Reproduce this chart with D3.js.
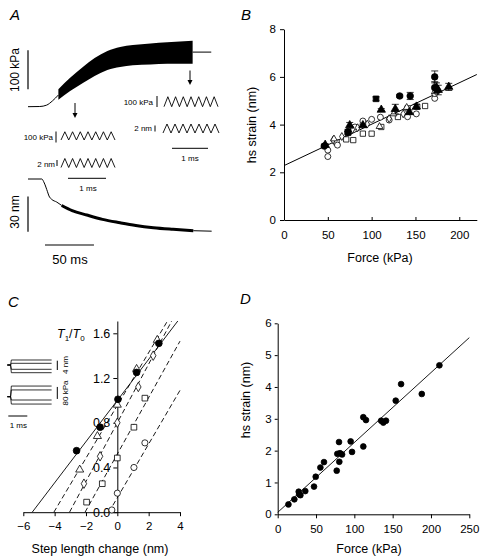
<!DOCTYPE html>
<html><head><meta charset="utf-8">
<script src="https://cdn.jsdelivr.net/npm/d3@7"></script>
<style>body{margin:0;background:#fff}svg{display:block}</style>
</head><body><svg id="c" width="480" height="560"></svg>
<script>
// ================= DATA =================
// Panel A: force (kPa) and length (nm) vs time (ms)
const aForceRise = [[0,0],[12,0.5],[19,4],[25,15],[31,30]];
const aForceBand = [[31,18,45],[43,40,74],[56,61,102],[68,79,125],[81,94,143],[94,102,153],[107,106,158],[125,108,162],[142,110,165],[168,110,169]]; // [t, low, high]
const aForceEnd = [[168,140],[187,140]];
const aLengthStart = [[0,0],[14,0],[16.6,-3.4],[19.9,-10.9],[21.4,-14.5],[24.2,-17.4],[29.3,-19.7],[34.4,-22.6]];
const aLengthBand = [[34.4,-22.6],[45,-27],[60,-30.8],[76,-34.5],[94,-37.4],[110,-39.7],[128,-41.6],[148,-43],[168.7,-44.2]];
const aLengthEnd = [[168.7,-44.2],[187.4,-44.6]];
// inset sinusoidal oscillations (alternating extremes, 7 cycles)
const insetForceWave = [0,75,0,75,0,75,0,75,0,75,0,75,0,75,0];   // kPa
const insetLengthWave = [0,3,0,3,0,3,0,3,0,3,0,3,0,3,0];          // nm

// Panel B: hs strain (nm) vs force (kPa)
const bFilledCircles = [[46,3.1,0.05],[73,3.7,0.1],[132,5.2,0.05],[144,5.2,0.15],[172,6.0,0.25],[172,5.55,0.25]];
const bFilledTriangles = [[47,3.15,0.05],[75,3.97,0.12],[90,3.97,0.05],[111,4.62,0.05],[127,4.65,0.2],[143,4.52,0.1],[151,4.75,0.1],[174,5.55,0.2],[176,5.45,0.2],[188,5.58,0.15]];
const bFilledSquares = [[105,5.08,0.08],[73,3.66,0.05]];
const bOpenCircles = [[50,2.93],[50,2.66],[61,3.14],[81,3.9],[90,4.15],[100,4.22],[110,4.31],[120,4.19],[141,4.33],[151,4.45],[172,5.1],[172,5.3]];
const bOpenSquares = [[60,3.25],[71,3.38],[79,3.35],[90,3.62],[100,3.62],[111,3.9],[130,4.32],[141,4.68],[152,4.75],[161,4.78],[174,5.4]];
const bOpenDiamonds = [[56,3.35],[66,3.5],[78,3.8],[84,3.87],[95,4.02],[120,4.25],[136,4.45]];
const bOpenTriangles = [[57,3.4],[109,3.92],[125,4.45],[140,4.72]];
const bFit = [[0,2.28],[220,6.1]];
const bTicksX = [0,50,100,150,200];
const bTicksY = [0,2,4,6,8];

// Panel C: T1/T0 vs step length change (nm)
const cFilledCircles = [[-2.6,0.55],[-1.1,0.76],[0.04,1.01],[1.23,1.25],[2.65,1.51]];
const cTriangles = [[-2.4,0.38],[-1.27,0.68],[0,0.96],[1.23,1.28],[2.55,1.54]];
const cDiamonds = [[-2.13,0.255],[-1.1,0.5],[0,0.8],[1.34,1.12],[2.29,1.4]];
const cSquares = [[-1.96,0.09],[-0.96,0.255],[0,0.485],[1.06,0.76],[1.76,1.02]];
const cCircles = [[-0.35,0.02],[0,0.17],[1.06,0.4],[1.76,0.62]];
// fitted lines: [x at T1/T0 = 0, x end, y end]
const cFitSolid = [[-5.43,0],[3.86,1.71]];
const cFitTriangles = [[-4.05,0],[3.2,1.71]];
const cFitDiamonds = [[-3.05,0],[3.47,1.71]];
const cFitSquares = [[-2.06,0],[4.0,1.53]];
const cFitCircles = [[-0.54,0],[4.0,1.09]];
const cTicksX = [-6,-4,-2,0,2,4];
const cTicksY = [0,0.4,0.8,1.2,1.6];
// inset step traces: levels after the step
const cInsetLenLevels = [2.15,0.73,-1.85,-3.3];    // nm
const cInsetForceLevels = [71,45,-22,-49];         // kPa

// Panel D: hs strain (nm) vs force (kPa)
const dPoints = [[14,0.31],[21.7,0.47],[27.4,0.71],[28,0.63],[29.6,0.6],[36,0.73],[47.4,0.87],[49.6,1.18],[55.7,1.47],[60.4,1.64],
  [77,1.37],[77.8,1.9],[80,2.27],[80.4,1.65],[81.3,1.92],[84,1.88],[95.2,2.29],[97,1.96],[111.7,2.13],[111.7,3.05],[115.2,2.96],
  [135,2.94],[137.8,2.88],[141.3,2.94],[154,3.57],[161,4.09],[188,3.78],[211,4.68]];
const dFit = [[0,0.06],[250,5.55]];
const dTicksX = [0,50,100,150,200,250];
const dTicksY = [0,1,2,3,4,5,6];

// ================= DRAW =================
const FONT = '"Liberation Sans", Arial, Helvetica, sans-serif';
const svg = d3.select("#c").attr("font-family", FONT);
svg.append("rect").attr("width",480).attr("height",560).attr("fill","#fff");

function txt(g,x,y,s,size,anchor,rot,italic){
  const t = g.append("text").attr("x",x).attr("y",y).attr("font-size",size).attr("fill","#000")
    .attr("text-anchor",anchor||"middle").text(s);
  if(italic) t.attr("font-style","italic");
  if(rot) t.attr("transform",`rotate(${rot},${x},${y})`);
  return t;
}
function hline(g,x1,x2,y,w){g.append("line").attr("x1",x1).attr("x2",x2).attr("y1",y).attr("y2",y).attr("stroke","#000").attr("stroke-width",w||1);}
function vline(g,x,y1,y2,w){g.append("line").attr("x1",x).attr("x2",x).attr("y1",y1).attr("y2",y2).attr("stroke","#000").attr("stroke-width",w||1);}
function styleAxis(g,fs){g.attr("font-family",FONT).attr("font-size",fs);g.selectAll("path,line").attr("stroke","#000");g.selectAll("text").attr("fill","#000");}

// ---------- Panel A ----------
const gA = svg.append("g");
txt(gA,10,20,"A",15,"start",0,true);
const ax = d3.scaleLinear().domain([0,100]).range([28,126]);
const afy = d3.scaleLinear().domain([0,100]).range([106.7,67.7]);
const aly = d3.scaleLinear().domain([0,-30]).range([179,214.1]);
const lineF = d3.line().x(d=>ax(d[0])).y(d=>afy(d[1])).curve(d3.curveMonotoneX);
const lineL = d3.line().x(d=>ax(d[0])).y(d=>aly(d[1])).curve(d3.curveMonotoneX);
gA.append("path").attr("d",lineF(aForceRise)).attr("fill","none").attr("stroke","#000");
gA.append("path").attr("d",d3.area().x(d=>ax(d[0])).y0(d=>afy(d[1])).y1(d=>afy(d[2])).curve(d3.curveMonotoneX)(aForceBand)).attr("fill","#000");
gA.append("path").attr("d",lineF(aForceEnd)).attr("fill","none").attr("stroke","#000");
gA.append("path").attr("d",lineL(aLengthStart)).attr("fill","none").attr("stroke","#000");
gA.append("path").attr("d",lineL(aLengthBand)).attr("fill","none").attr("stroke","#000").attr("stroke-width",3);
gA.append("path").attr("d",lineL(aLengthEnd)).attr("fill","none").attr("stroke","#000");
// scale bars
vline(gA,ax(0),afy(45),afy(145),1.2);
txt(gA,19,70,"100 kPa",12,"middle",-90);
vline(gA,ax(0),aly(-15),aly(-45),1.2);
txt(gA,19,212,"30 nm",12,"middle",-90);
hline(gA,ax(17.3),ax(67.3),245,1.2);
txt(gA,70,264,"50 ms",13,"middle");
// arrows
function arrow(g,x,y1,y2){vline(g,x,y1,y2-3,1);g.append("path").attr("d",`M${x-2.5},${y2-5}L${x+2.5},${y2-5}L${x},${y2}Z`).attr("fill","#000");}
arrow(gA,75,103,118);
arrow(gA,190,70.5,85);
// insets
function wave(g,vals,x0,x1,yBase,pxPer){
  const xs = d3.scalePoint().domain(d3.range(vals.length)).range([x0,x1]);
  const y = d3.scaleLinear().domain([0,1]).range([yBase,yBase-pxPer]);
  g.append("path").attr("d",d3.line().x((d,i)=>xs(i)).y(d=>y(d))(vals)).attr("fill","none").attr("stroke","#000").attr("stroke-width",0.9);
}
// left inset
wave(gA,insetForceWave,61,115,140,0.11);
vline(gA,56,131.5,142.5,1);
txt(gA,53,139.5,"100 kPa",8,"end");
wave(gA,insetLengthWave,61,115,167.5,3);
vline(gA,57,160,166,1);
txt(gA,55,166.5,"2 nm",8,"end");
hline(gA,68,106,178.3,1);
txt(gA,88,191,"1 ms",8,"middle");
// right inset
wave(gA,insetForceWave,164,218,106.7,0.133);
vline(gA,157,96,107,1);
txt(gA,153,105,"100 kPa",8,"end");
wave(gA,insetLengthWave,163,219,133,3);
vline(gA,155,125.5,131.5,1);
txt(gA,152,131,"2 nm",8,"end");
hline(gA,172,208,148.3,1);
txt(gA,190,161,"1 ms",8,"middle");

// ---------- Panel B ----------
const gB = svg.append("g");
txt(gB,241,20,"B",15,"start",0,true);
const bx = d3.scaleLinear().domain([0,220]).range([284,476.8]);
const by = d3.scaleLinear().domain([0,8]).range([220,29.2]);
const gBx = gB.append("g").attr("transform","translate(0,220)").call(d3.axisBottom(bx).tickValues(bTicksX).tickSizeInner(-3).tickSizeOuter(0).tickPadding(11));
styleAxis(gBx,11.5);
const gBy = gB.append("g").attr("transform","translate(284,0)").call(d3.axisLeft(by).tickValues(bTicksY).tickSizeInner(4).tickSizeOuter(0).tickPadding(4));
styleAxis(gBy,11.5);
txt(gB,380,262,"Force (kPa)",12.5,"middle");
txt(gB,256,125,"hs strain (nm)",12.5,"middle",-90);
gB.append("line").attr("x1",bx(bFit[0][0])).attr("y1",by(bFit[0][1])).attr("x2",bx(bFit[1][0])).attr("y2",by(bFit[1][1])).attr("stroke","#000");
const sym = (type,size)=>d3.symbol().type(type).size(size)();
function pts(g,data,xs,ys,type,size,fill){
  g.selectAll(null).data(data).enter().append("path").attr("d",sym(type,size))
   .attr("transform",d=>`translate(${xs(d[0])},${ys(d[1])})`)
   .attr("fill",fill?"#000":"#fff").attr("stroke","#000").attr("stroke-width",0.8);
}
function errs(g,data,xs,ys){
  data.forEach(d=>{const x=xs(d[0]);vline(g,x,ys(d[1]-d[2]),ys(d[1]+d[2]),0.8);hline(g,x-3.5,x+3.5,ys(d[1]+d[2]),0.8);hline(g,x-3.5,x+3.5,ys(d[1]-d[2]),0.8);});
}
pts(gB,bOpenSquares,bx,by,d3.symbolSquare,28,false);
pts(gB,bOpenCircles,bx,by,d3.symbolCircle,28,false);
pts(gB,bOpenDiamonds,bx,by,d3.symbolDiamond,18,false);
pts(gB,bOpenTriangles,bx,by,d3.symbolTriangle,20,false);
errs(gB,bFilledCircles,bx,by);errs(gB,bFilledTriangles,bx,by);errs(gB,bFilledSquares,bx,by);
pts(gB,bFilledSquares,bx,by,d3.symbolSquare,32,true);
pts(gB,bFilledCircles,bx,by,d3.symbolCircle,34,true);
pts(gB,bFilledTriangles,bx,by,d3.symbolTriangle,30,true);

// ---------- Panel C ----------
const gC = svg.append("g");
txt(gC,8,307,"C",15,"start",0,true);
const cx = d3.scaleLinear().domain([-6,4]).range([23.3,180]);
const cy = d3.scaleLinear().domain([0,1.71]).range([512.2,321]);
const gCx = gC.append("g").attr("transform",`translate(0,${cy(0)})`).call(d3.axisBottom(cx).tickValues(cTicksX).tickSizeInner(4).tickSizeOuter(0).tickPadding(6));
styleAxis(gCx,11.5);
const gCy = gC.append("g").attr("transform",`translate(${cx(0)},0)`).call(d3.axisLeft(cy).tickValues(cTicksY).tickFormat(d3.format(".1f")).tickSizeInner(4).tickSizeOuter(0).tickPadding(3));
styleAxis(gCy,12.5);
txt(gC,100,553,"Step length change (nm)",12.5,"middle");
// T1/T0 label
const tl = gC.append("text").attr("x",57).attr("y",338).attr("font-size",12.5).attr("font-style","italic").attr("fill","#000");
tl.append("tspan").text("T");
tl.append("tspan").attr("font-size",8).attr("dy",3).attr("font-style","normal").text("1");
tl.append("tspan").attr("dy",-3).attr("font-style","normal").text("/");
tl.append("tspan").text("T");
tl.append("tspan").attr("font-size",8).attr("dy",3).attr("font-style","normal").text("0");
function fit(g,d,dash){g.append("line").attr("x1",cx(d[0][0])).attr("y1",cy(d[0][1])).attr("x2",cx(d[1][0])).attr("y2",cy(d[1][1])).attr("stroke","#000").attr("stroke-width",0.9).attr("stroke-dasharray",dash?"5,3":null);}
fit(gC,cFitSolid,false);fit(gC,cFitTriangles,true);fit(gC,cFitDiamonds,true);fit(gC,cFitSquares,true);fit(gC,cFitCircles,true);
pts(gC,cCircles,cx,cy,d3.symbolCircle,30,false);
pts(gC,cSquares,cx,cy,d3.symbolSquare,32,false);
pts(gC,cDiamonds,cx,cy,d3.symbolDiamond,26,false);
pts(gC,cTriangles,cx,cy,d3.symbolTriangle,28,false);
pts(gC,cFilledCircles,cx,cy,d3.symbolCircle,36,true);
// inset
const cix = d3.scaleLinear().domain([0,1]).range([8.3,27.3]);
const ciyL = d3.scaleLinear().domain([0,1]).range([365,362.67]);
const ciyF = d3.scaleLinear().domain([0,100]).range([396.7,381.7]);
function stepTrace(g,lvl,ys){
  const d=[[-0.05,0],[0.12,0],[0.16,lvl],[2.28,lvl]];
  g.append("path").attr("d",d3.line().x(p=>cix(p[0])).y(p=>ys(p[1]))(d)).attr("fill","none").attr("stroke","#000").attr("stroke-width",0.8);
}
cInsetLenLevels.forEach(l=>stepTrace(gC,l,ciyL));
cInsetForceLevels.forEach(l=>stepTrace(gC,l,ciyF));
vline(gC,57.3,ciyL(1.85),ciyL(-2.15),1);
txt(gC,68,365,"4 nm",8,"middle",-90);
vline(gC,57.3,ciyF(65),ciyF(-15),1);
txt(gC,68,393,"80 kPa",8,"middle",-90);
hline(gC,cix(0),cix(1),416,1);
txt(gC,18.3,428,"1 ms",8,"middle");

// ---------- Panel D ----------
const gD = svg.append("g");
txt(gD,240,304,"D",15,"start",0,true);
const dx = d3.scaleLinear().domain([0,250]).range([277.7,469.3]);
const dy = d3.scaleLinear().domain([0,6]).range([514.3,323.3]);
const gDx = gD.append("g").attr("transform","translate(0,514.3)").call(d3.axisBottom(dx).tickValues(dTicksX).tickSizeInner(4).tickSizeOuter(0).tickPadding(7));
styleAxis(gDx,11.5);
const gDy = gD.append("g").attr("transform","translate(277.7,0)").call(d3.axisLeft(dy).tickValues(dTicksY).tickFormat(d3.format("d")).tickSizeInner(3).tickSizeOuter(0).tickPadding(3));
styleAxis(gDy,11.5);
txt(gD,369,553,"Force (kPa)",12.5,"middle");
txt(gD,250,400,"hs strain (nm)",12.5,"middle",-90);
gD.append("line").attr("x1",dx(dFit[0][0])).attr("y1",dy(dFit[0][1])).attr("x2",dx(dFit[1][0])).attr("y2",dy(dFit[1][1])).attr("stroke","#000").attr("stroke-width",0.9);
pts(gD,dPoints,dx,dy,d3.symbolCircle,26,true);
</script></body></html>
